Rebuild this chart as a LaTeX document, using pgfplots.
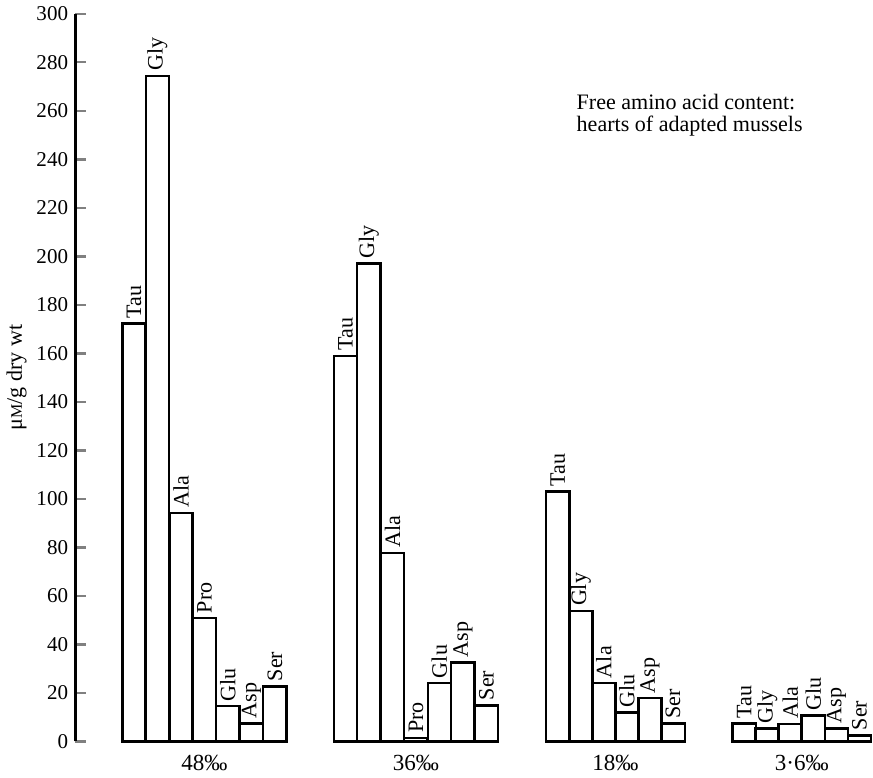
\documentclass[border=0pt]{standalone}
\usepackage{fontspec}
\setmainfont{Liberation Serif}
\usepackage{pgfplots}
\pgfplotsset{compat=1.18}
\begin{document}
\begin{tikzpicture}
\begin{axis}[
 width=398pt, height=363pt, scale only axis,
 xmin=77, xmax=873, ymin=0, ymax=300,
 axis y line*=left, axis x line*=bottom,
 x axis line style={draw=none},
 y axis line style={line width=1.4pt},
 ytick={0,20,...,300},
 xtick={206,417,616,802},
 xticklabels={48‰,36‰,18‰,3·6‰},
 xtick style={draw=none},
 ytick style={line width=1.2pt},
 tick align=inside, major tick length=5.5pt,
 /pgf/number format/assume math mode=true,
 yticklabel style={font=\fontsize{10.5}{12}\selectfont},
 xticklabel style={font=\fontsize{11.5}{12}\selectfont, yshift=2pt},
 ylabel={μ{\footnotesize M}/g dry wt},
 ylabel style={font=\fontsize{11}{12}\selectfont, yshift=-2pt},
 ybar, bar width=23.3, bar shift=0pt,
 clip=false,
 nodes near coords, point meta=explicit symbolic,
 every node near coord/.append style={rotate=90, anchor=west, font=\fontsize{11}{12}\selectfont, inner sep=2pt},
]
\addplot[draw=black, fill=white, line width=1.2pt] coordinates {
 (135.7,172.3)[Tau] (159.1,274.4)[Gly] (182.6,94.2)[Ala] (206.0,50.8)[Pro] (229.4,14.5)[Glu] (252.9,7.4)[Asp] (276.3,22.7)[Ser]
};
\addplot[draw=black, fill=white, line width=1.2pt] coordinates {
 (346.7,159)[Tau] (370.1,197)[Gly] (393.6,77.7)[Ala] (417.0,1.5)[Pro] (440.4,24)[Glu] (463.9,32.6)[Asp] (487.3,14.9)[Ser]
};
\addplot[draw=black, fill=white, line width=1.2pt] coordinates {
 (558.5,103)[Tau] (581.5,53.7)[Gly] (604.5,24)[Ala] (627.5,12)[Glu] (650.5,17.8)[Asp] (673.5,7.4)[Ser]
};
\addplot[draw=black, fill=white, line width=1.2pt] coordinates {
 (744.5,7.4)[Tau] (767.5,5.4)[Gly] (790.5,7.2)[Ala] (813.5,10.7)[Glu] (836.5,5.4)[Asp] (859.5,2.5)[Ser]
};
\node[anchor=north west, inner sep=0pt, align=left, font=\fontsize{11}{11}\selectfont] at (axis cs:577,267) {Free amino acid content:\\hearts of adapted mussels};
\end{axis}
\end{tikzpicture}
\end{document}
